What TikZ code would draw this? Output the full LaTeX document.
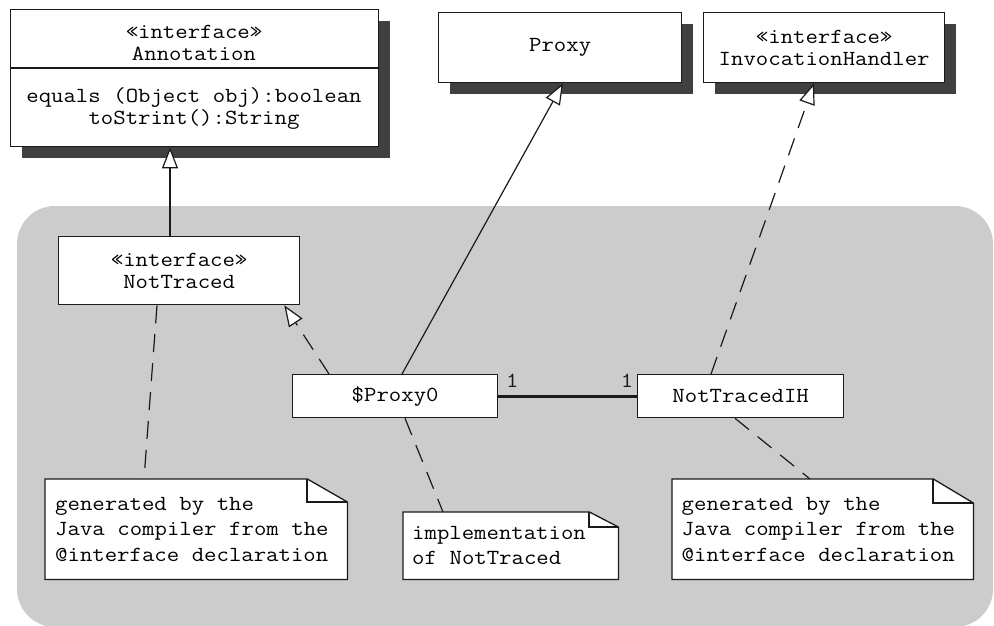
\documentclass[tikz,border=0pt]{standalone}
\usepackage{fontspec}
\newfontfamily\umlfont{Latin Modern Mono}[FakeStretch=1.12]
\newcommand\umlfix{\spaceskip=12.6pt plus 0pt minus 0pt\xspaceskip=12.6pt plus 0pt minus 0pt\relax}
\usetikzlibrary{arrows.meta,shadows,calc}
\definecolor{bggray}{HTML}{CCCCCC}
\definecolor{shadowc}{HTML}{404040}
\definecolor{linec}{HTML}{1A1A1A}
\begin{document}
\begin{tikzpicture}[x=1pt,y=-1pt,
  cls/.style={draw=linec, line width=1.3pt, fill=white, inner sep=0pt, anchor=north west,
    align=flush center, font=\umlfont\fontsize{21.5}{22}\selectfont\umlfix},
  shadowed/.style={general shadow={fill=shadowc, shadow xshift=11pt, shadow yshift=-11pt}},
  txt/.style={inner sep=0pt, align=flush center, font=\umlfont\fontsize{21.5}{22}\selectfont\umlfix},
  notebox/.style={draw=none, fill=none, inner sep=0pt, anchor=north west},
  notetext/.style={inner sep=0pt, align=flush left, font=\umlfont\fontsize{21.5}{25.5}\selectfont\umlfix},
  boxline/.style={draw=linec, line width=1.3pt},
  foldline/.style={draw=linec, line width=2pt},
  gen/.style={draw=linec, line width=1.2pt, -{Triangle[length=21pt,width=16pt,fill=white]}},
  dashpat/.style={dash pattern=on 18pt off 11pt},
  real/.style={gen, dashpat},
  dashline/.style={draw=linec, line width=1.2pt, dashpat},
  assoc/.style={draw=linec, line width=3pt},
  lbl/.style={inner sep=0pt, text=linec, font=\umlfont\fontsize{21.5}{22}\selectfont}]
\useasboundingbox (0,0) rectangle (994,625);
\fill[white] (0,0) rectangle (994,625);
\fill[bggray, rounded corners=38pt] (17,206) rectangle (993,627);

% top classes
\node[cls, shadowed, minimum width=368pt, minimum height=137pt] (ann) at (10,9) {};
\draw[boxline] ([yshift=-59pt]ann.north west) -- ([yshift=-59pt]ann.north east);
\node[txt] (annhead) at (194,43) {«interface»\\Annotation};
\node[txt] (annops) at (194,108) {equals (Object obj):boolean\\toStrint():String};

\node[cls, shadowed, minimum width=243pt, minimum height=70pt] (proxy) at (438,12) {Proxy};
\node[cls, shadowed, minimum width=241pt, minimum height=70pt] (invh) at (703,12) {«interface»\\InvocationHandler};

% inner classes
\node[cls, minimum width=241pt, minimum height=68pt] (nt) at (58,236) {«interface»\\NotTraced};
\node[cls, minimum width=205pt, minimum height=43pt] (p0) at (292,374) {\$Proxy0};
\node[cls, minimum width=206pt, minimum height=43pt] (nih) at (637,374) {NotTracedIH};

% notes
\node[notebox, minimum width=302pt, minimum height=100pt] (n1) at (45,479) {};
\filldraw[boxline, fill=white] (n1.north west) -- ([xshift=-40pt]n1.north east) -- ([yshift=-23pt]n1.north east) -- (n1.south east) -- (n1.south west) -- cycle;
\draw[foldline] ([xshift=-40pt]n1.north east) -- ([xshift=-40pt,yshift=-23pt]n1.north east) -- ([yshift=-23pt]n1.north east);
\node[notetext, text width=282pt] (n1t) at (n1.center) {generated by the\\Java compiler from the\\@interface declaration};

\node[notebox, minimum width=215pt, minimum height=67pt] (n2) at (403,512) {};
\filldraw[boxline, fill=white] (n2.north west) -- ([xshift=-29pt]n2.north east) -- ([yshift=-15pt]n2.north east) -- (n2.south east) -- (n2.south west) -- cycle;
\draw[foldline] ([xshift=-29pt]n2.north east) -- ([xshift=-29pt,yshift=-15pt]n2.north east) -- ([yshift=-15pt]n2.north east);
\node[notetext, text width=197pt] (n2t) at (n2.center) {implementation\\of NotTraced};

\node[notebox, minimum width=301pt, minimum height=100pt] (n3) at (672,479) {};
\filldraw[boxline, fill=white] (n3.north west) -- ([xshift=-40pt]n3.north east) -- ([yshift=-24pt]n3.north east) -- (n3.south east) -- (n3.south west) -- cycle;
\draw[foldline] ([xshift=-40pt]n3.north east) -- ([xshift=-40pt,yshift=-24pt]n3.north east) -- ([yshift=-24pt]n3.north east);
\node[notetext, text width=282pt] (n3t) at (n3.center) {generated by the\\Java compiler from the\\@interface declaration};

% connectors
\draw[gen] ([xshift=112pt]nt.north west) -- ([xshift=160pt]ann.south west);
\draw[real] ([xshift=37pt]p0.north west) -- ([xshift=-16pt]nt.south east);
\draw[gen] ([xshift=110pt]p0.north west) -- ([xshift=125pt]proxy.south west);
\draw[real] ([xshift=74pt]nih.north west) -- ([xshift=111pt]invh.south west);
\draw[assoc] (p0.east) -- (nih.west);
\node[lbl] (m1) at ([shift={(14pt,-7pt)}]p0.north east) {1};
\node[lbl] (m2) at ([shift={(-10pt,-7pt)}]nih.north west) {1};

\draw[dashline] ([xshift=99pt]nt.south west) -- ([xshift=99pt]n1.north west);
\draw[dashline] ([xshift=113pt]p0.south west) -- ([xshift=40pt]n2.north west);
\draw[dashline] ([xshift=98pt]nih.south west) -- ([xshift=138pt]n3.north west);
\end{tikzpicture}
\end{document}
